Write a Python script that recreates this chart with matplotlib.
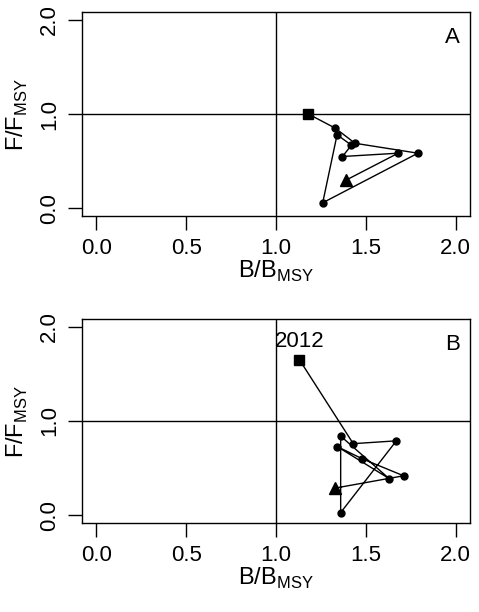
import matplotlib
matplotlib.use("Agg")
import matplotlib.pyplot as plt

plt.rcParams['font.family'] = ['Liberation Sans', 'DejaVu Sans']
plt.rcParams['mathtext.fontset'] = 'custom'
plt.rcParams['mathtext.rm'] = 'Liberation Sans'

a_x = [1.39, 1.68, 1.37, 1.42, 1.34, 1.26, 1.79, 1.44, 1.33, 1.18]
a_y = [0.30, 0.585, 0.55, 0.67, 0.78, 0.06, 0.585, 0.69, 0.85, 1.00]
b_x = [1.33, 1.71, 1.48, 1.34, 1.63, 1.36, 1.36, 1.67, 1.43, 1.13]
b_y = [0.29, 0.42, 0.60, 0.73, 0.39, 0.84, 0.03, 0.79, 0.76, 1.65]
ticks = [0.0, 0.5, 1.0, 1.5, 2.0]
tick_labels = ["0.0", "0.5", "1.0", "1.5", "2.0"]

fig = plt.figure(figsize=(4.79, 6.12), dpi=100)
W, H = 479, 612
boxes = [(12, 216), (319, 523)]
for (top, bot), xs, ys, letter in zip(boxes, [a_x, b_x], [a_y, b_y], ["A", "B"]):
    ax = fig.add_axes([82 / W, (H - bot) / H, 388 / W, (bot - top) / H])
    ax.set_xlim(-0.08, 2.08)
    ax.set_ylim(-0.08, 2.08)
    ax.axvline(1, color='black', lw=1)
    ax.axhline(1, color='black', lw=1)
    ax.plot(xs, ys, '-', color='black', lw=1)
    ax.plot(xs[1:-1], ys[1:-1], 'o', color='black', ms=5)
    ax.plot(xs[0], ys[0], '^', color='black', ms=8)
    ax.plot(xs[-1], ys[-1], 's', color='black', ms=6.5)
    ax.set_xticks(ticks)
    ax.set_xticklabels(tick_labels)
    ax.set_yticks(ticks[::2])
    ax.set_yticklabels(tick_labels[::2], rotation=90, va='center')
    ax.tick_params(labelsize=16, length=10, width=1, direction='out', pad=6)
    for s in ax.spines.values():
        s.set_linewidth(1)
    ax.set_xlabel(r'B/B$_{\mathregular{MSY}}$', fontsize=17, labelpad=0)
    ax.set_ylabel(r'F/F$_{\mathregular{MSY}}$', fontsize=17, labelpad=6)
    ax.text(0.975, 0.85, letter, transform=ax.transAxes, ha='right', fontsize=16)
    if letter == "B":
        ax.text(xs[-1], ys[-1] + 0.08, "2012", ha='center', va='bottom', fontsize=16)

fig.savefig("out.png", dpi=100)
